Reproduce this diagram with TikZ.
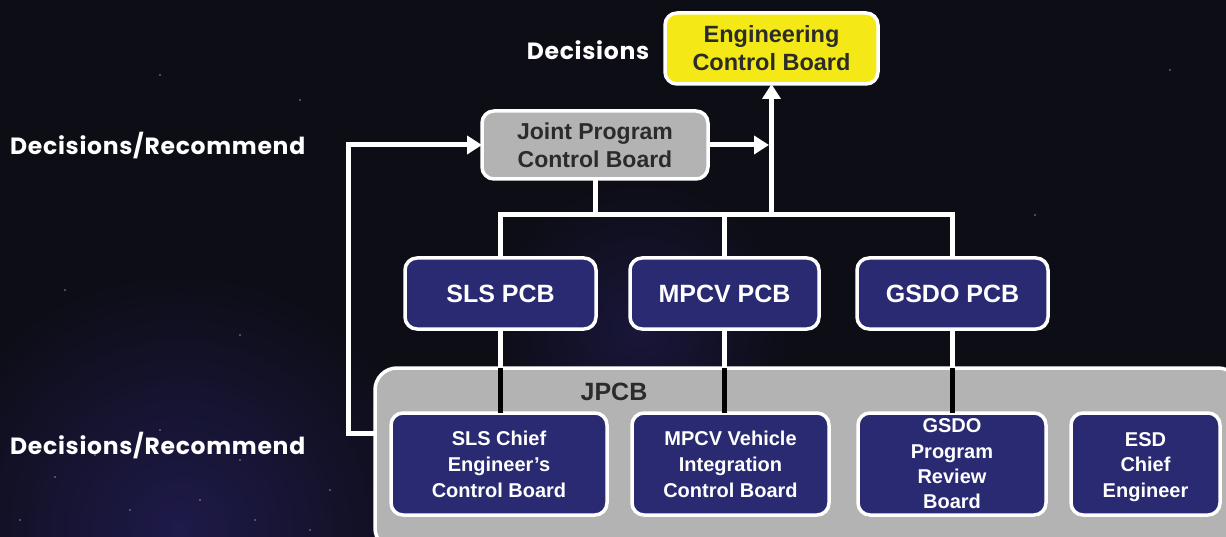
\documentclass[tikz,border=0pt]{standalone}
\usepackage{fontspec}
\setmainfont{Liberation Sans}
\newfontfamily\gothic{Poppins}[LetterSpace=3]
\usetikzlibrary{arrows.meta}
\definecolor{bg}{HTML}{0D0D16}
\definecolor{haze}{HTML}{1E1A4A}
\definecolor{navy}{HTML}{2A2A72}
\definecolor{ybox}{HTML}{F4E917}
\definecolor{gbox}{HTML}{B3B3B3}
\definecolor{dtext}{HTML}{2B2B2B}
\begin{document}
\begin{tikzpicture}[x=1pt,y=-1pt,
  box/.style={draw=white, line width=3.5pt, rounded corners=12pt, inner sep=0pt, outer sep=0pt, align=center, font=\bfseries},
  navybox/.style={box, fill=navy, text=white},
  pcbbox/.style={navybox, minimum height=71pt, font=\fontsize{25}{30}\selectfont\bfseries},
  subbox/.style={navybox, minimum height=102pt, font=\fontsize{20}{26}\selectfont\bfseries},
  subtext/.style={text=white, align=center, inner sep=0pt, font=\fontsize{20}{25.5}\selectfont\bfseries},
  lbl/.style={text=white, font=\gothic\fontsize{23.5}{26}\selectfont\bfseries, inner sep=0pt},
  conn/.style={draw=white, line width=5pt},
  blk/.style={draw=black, line width=5pt},
  arr/.style={-{Triangle[width=18pt,length=15pt]}},
  star/.style={fill=white, opacity=0.35}
]
\useasboundingbox (0,0) rectangle (1226,537);
\clip (0,0) rectangle (1226,537);
\fill[bg] (0,0) rectangle (1226,537);
\shade[inner color=haze, outer color=bg] (180,530) circle (260pt);
\shade[inner color=haze!70!bg, outer color=bg] (640,330) circle (150pt);
\foreach \p in {(160,75),(300,100),(65,290),(240,335),(160,430),(240,460),(55,477),(200,500),(255,520),(310,530),(130,510),(20,520),(95,455),(330,490),(1170,70),(1035,215)}
  \fill[star] \p circle (1.2pt);

% nodes
\node[box, fill=ybox, text=dtext, minimum width=213pt, minimum height=71pt,
      font=\fontsize{23.5}{28}\selectfont\bfseries] (ecb) at (771.5,48.5) {Engineering\\Control Board};
\node[box, fill=gbox, text=dtext, minimum width=226pt, minimum height=68pt,
      font=\fontsize{23}{28}\selectfont\bfseries] (jpcbtop) at (595,145) {Joint Program\\Control Board};

\node[pcbbox, minimum width=191pt] (slspcb) at (500.5,293.5) {SLS PCB};
\node[pcbbox, minimum width=189pt] (mpcvpcb) at (724.5,293.5) {MPCV PCB};
\node[pcbbox, minimum width=191pt] (gsdopcb) at (952.5,293.5) {GSDO PCB};

\node[box, fill=gbox, rounded corners=22pt, minimum width=865pt, minimum height=182pt] (bigbox) at (807.5,459) {};
\node[text=dtext, font=\fontsize{25}{30}\selectfont\bfseries, inner sep=0pt] (jpcblbl) at (614,392) {JPCB};

\node[subbox, minimum width=216pt] (slschief) at (499,464) {SLS Chief\\Engineer’s\\Control Board};
\node[subbox, minimum width=197pt] (mpcvvic) at (730.5,464) {MPCV Vehicle\\Integration\\Control Board};
\node[subbox, minimum width=188pt, font=\fontsize{20}{25.3}\selectfont\bfseries] (gsdoprb) at (952,464) {GSDO\\Program\\Review\\Board};
\node[subbox, minimum width=149pt] (esd) at (1145.5,464) {};
\node[subtext] (esdtext) at ([yshift=-3pt]esd.center) {ESD\\Chief\\Engineer};

\node[lbl] (dec) at (588,50) {Decisions};
\node[lbl, anchor=west] (decrec1) at (10,146) {Decisions/Recommend};
\node[lbl, anchor=west] (decrec2) at (10,446) {Decisions/Recommend};

% connectors
\coordinate (bus) at (0,215);
\coordinate (loopcorner) at (348,433);
\coordinate (loopend) at (bigbox.west |- loopcorner);

\draw[conn] (slspcb.north) -- (slspcb.north |- bus) -- (gsdopcb.north |- bus) -- (gsdopcb.north);
\draw[conn] (mpcvpcb.north) -- (mpcvpcb.north |- bus);
\draw[conn] (jpcbtop.south) -- (jpcbtop.south |- bus);
\draw[conn, arr] (ecb.south |- bus) -- (ecb.south);
\draw[conn, arr, shorten >=2.5pt] (jpcbtop.east) -- (jpcbtop.east -| ecb.south);
\draw[conn, arr, line join=miter] (loopend) -- (loopcorner) |- (jpcbtop.west);

\foreach \a/\b in {slspcb/slschief, mpcvpcb/mpcvvic, gsdopcb/gsdoprb}{
  \draw[conn] (\a.south) -- (\a.south |- bigbox.north);
  \draw[blk] (\a.south |- bigbox.north) -- (\a.south |- \b.north);
}
\end{tikzpicture}
\end{document}
